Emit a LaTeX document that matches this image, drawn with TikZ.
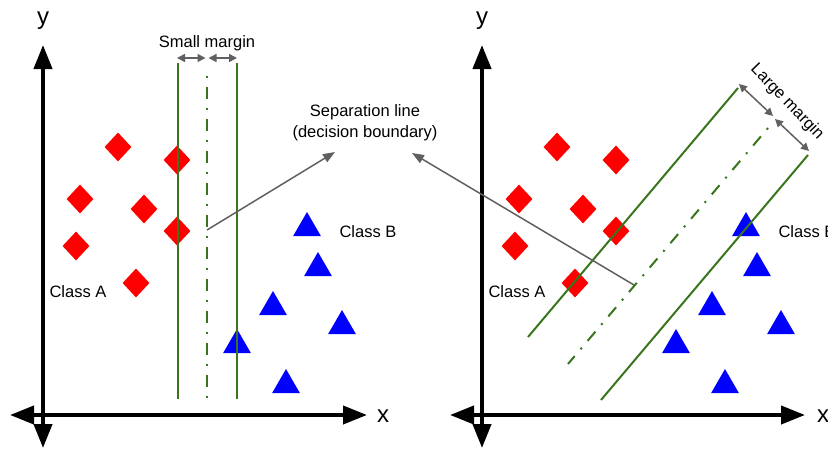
\documentclass[tikz,border=0pt]{standalone}
\usepackage{fontspec}
\setmainfont{Liberation Sans}
\usetikzlibrary{arrows.meta,shapes.geometric}
\definecolor{svmgreen}{HTML}{38761D}
\definecolor{arrgray}{HTML}{606060}
\begin{document}
\begin{tikzpicture}[x=1pt,y=-1pt,
  axis/.style={line width=4pt,{Triangle[length=24pt,width=18pt]}-{Triangle[length=24pt,width=18pt]}},
  axlabel/.style={font=\fontsize{24}{28}\selectfont, inner sep=0pt},
  lbl/.style={font=\fontsize{16.5}{21}\selectfont, inner sep=0pt, align=center},
  rdia/.style={diamond, fill=red, minimum width=27pt, minimum height=29pt, inner sep=0pt},
  btri/.style={regular polygon, regular polygon sides=3, fill=blue, minimum size=32pt, inner sep=0pt},
  svmline/.style={svmgreen, line width=2pt},
  svmdash/.style={svmgreen, line width=2pt, dash pattern=on 2pt off 9pt on 12pt off 9pt},
  marg/.style={arrgray, line width=1.5pt, {Triangle[length=8pt,width=8pt]}-{Triangle[length=8pt,width=8pt]}},
  pointer/.style={arrgray, line width=1.5pt, -{Triangle[length=12pt,width=9pt]}}]
\useasboundingbox (0,0) rectangle (828,450);

% ---------- LEFT PANEL ----------
\coordinate (Ly1) at (43,45);  \coordinate (Ly2) at (43,448);
\coordinate (Lx1) at (10,415); \coordinate (Lx2) at (367,415);
\draw[axis] (Ly2) -- (Ly1);
\draw[axis] (Lx1) -- (Lx2);
\node[axlabel] (Lylab) at (43,21) {y};
\node[axlabel] (Lxlab) at (383,416) {x};

\node[rdia] (LD1) at (118,147) {};
\node[rdia] (LD2) at (177,160) {};
\node[rdia] (LD3) at (80,199) {};
\node[rdia] (LD4) at (144,209) {};
\node[rdia] (LD5) at (177,231) {};
\node[rdia] (LD6) at (76,246) {};
\node[rdia] (LD7) at (136,283) {};

\node[btri] (LT1) at (307,228) {};
\node[btri] (LT2) at (318,268) {};
\node[btri] (LT3) at (273,307) {};
\node[btri] (LT4) at (342,326) {};
\node[btri] (LT5) at (237,345) {};
\node[btri] (LT6) at (286,385) {};

\coordinate (La1) at (178,63);  \coordinate (La2) at (178,399);
\coordinate (Lm1) at (207,76);  \coordinate (Lm2) at (207,399);
\coordinate (Lb1) at (237,63);  \coordinate (Lb2) at (237,399);
\draw[svmline] (La1) -- (La2);
\draw[svmline] (Lb1) -- (Lb2);
\draw[svmdash] (Lm1) -- (Lm2);

\coordinate (Lg1) at (177,58); \coordinate (Lg2) at (205.5,58);
\coordinate (Lg3) at (208.5,58); \coordinate (Lg4) at (237,58);
\draw[marg] (Lg1) -- (Lg2);
\draw[marg] (Lg3) -- (Lg4);
\node[lbl] (small) at (207,43) {Small margin};

\node[lbl] (classAL) at (78,292) {Class A};
\node[lbl] (classBL) at (368,232) {Class B};

\node[lbl] (sep) at (365,123) {Separation line\\(decision boundary)};
\coordinate (Lp1) at (207,230); \coordinate (Lp2) at (335,152);
\draw[pointer] (Lp1) -- (Lp2);

% ---------- RIGHT PANEL ----------
\coordinate (Ry1) at (482,45);  \coordinate (Ry2) at (482,448);
\coordinate (Rx1) at (450,415); \coordinate (Rx2) at (805,415);
\draw[axis] (Ry2) -- (Ry1);
\draw[axis] (Rx1) -- (Rx2);
\node[axlabel] (Rylab) at (482,21) {y};
\node[axlabel] (Rxlab) at (823,416) {x};

\node[rdia] (RD1) at (557,147) {};
\node[rdia] (RD2) at (616,160) {};
\node[rdia] (RD3) at (519,199) {};
\node[rdia] (RD4) at (583,209) {};
\node[rdia] (RD5) at (616,231) {};
\node[rdia] (RD6) at (515,246) {};
\node[rdia] (RD7) at (575,283) {};

\node[btri] (RT1) at (746,228) {};
\node[btri] (RT2) at (757,268) {};
\node[btri] (RT3) at (712,307) {};
\node[btri] (RT4) at (781,326) {};
\node[btri] (RT5) at (676,345) {};
\node[btri] (RT6) at (725,385) {};

\coordinate (Ra1) at (528,337); \coordinate (Ra2) at (738,88);
\coordinate (Rm1) at (568,364); \coordinate (Rm2) at (768,128);
\coordinate (Rb1) at (601,400); \coordinate (Rb2) at (808,155);
\draw[svmline] (Ra1) -- (Ra2);
\draw[svmline] (Rb1) -- (Rb2);
\draw[svmdash] (Rm2) -- (Rm1);

\coordinate (Rg1) at (739,84);  \coordinate (Rg2) at (773,116);
\coordinate (Rg3) at (775,119); \coordinate (Rg4) at (809,151);
\draw[marg] (Rg1) -- (Rg2);
\draw[marg] (Rg3) -- (Rg4);
\node[lbl, rotate=-46] (large) at (787,102) {Large margin};

\node[lbl] (classAR) at (517,292) {Class A};
\node[lbl] (classBR) at (807,232) {Class B};

\coordinate (Rp1) at (634,285); \coordinate (Rp2) at (412,153);
\draw[pointer] (Rp1) -- (Rp2);
\end{tikzpicture}
\end{document}
